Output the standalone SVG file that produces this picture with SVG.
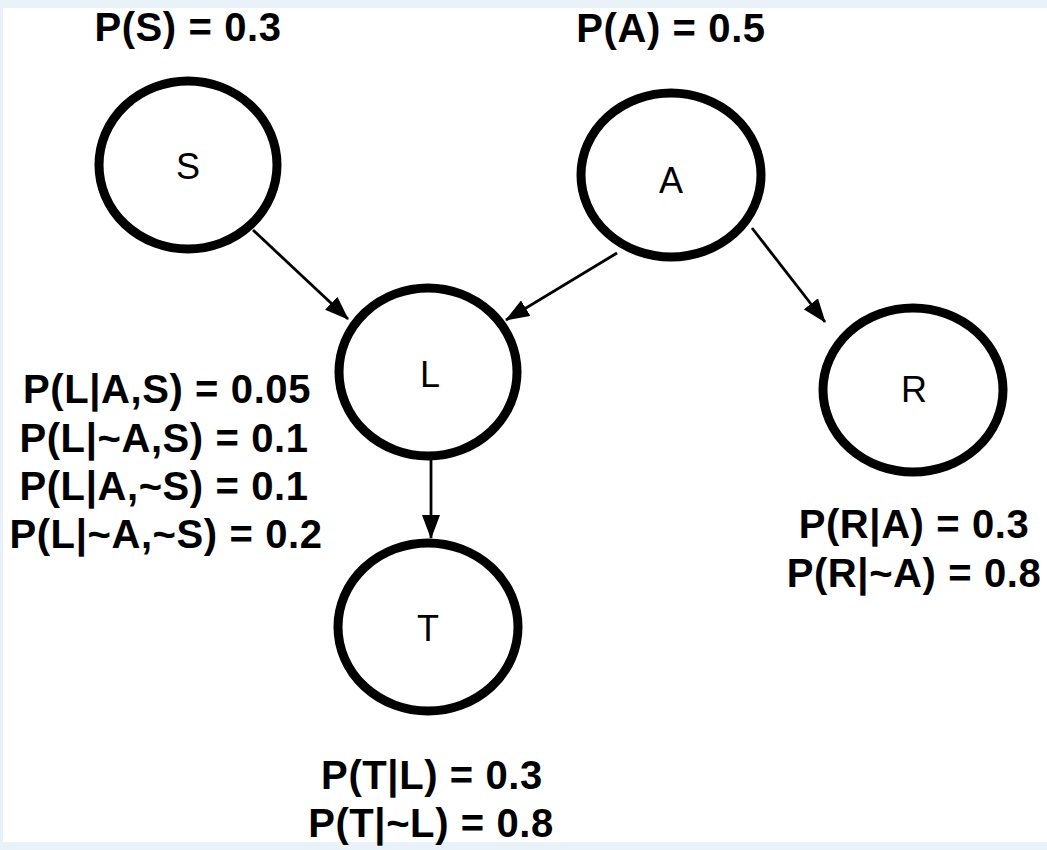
<svg xmlns="http://www.w3.org/2000/svg" width="1047" height="850" viewBox="0 0 1047 850">
<style>
.node{fill:#fff;stroke:#000;stroke-width:9}
.lbl{font-family:"Liberation Sans",Arial,Helvetica,sans-serif;font-size:36px;fill:#000;text-anchor:middle}
.cpt{font-family:"Liberation Sans",Arial,Helvetica,sans-serif;font-size:40px;font-weight:bold;fill:#000;text-anchor:middle;letter-spacing:0.6px}
.edge{stroke:#000;stroke-width:2.8;fill:none;marker-end:url(#arr)}
</style>
<defs>
<marker id="arr" markerUnits="userSpaceOnUse" markerWidth="24" markerHeight="18" viewBox="0 0 24 18" refX="23" refY="9" orient="auto">
<path d="M0,0 L24,9 L0,18 Z" fill="#000"/>
</marker>
</defs>
<rect x="0" y="0" width="1047" height="850" fill="#e9f1f9"/>
<rect x="3" y="8" width="1044" height="834" fill="#fff"/>
<g id="edges">
<line class="edge" x1="253" y1="230" x2="348" y2="319"/>
<line class="edge" x1="617" y1="253" x2="506" y2="320"/>
<line class="edge" x1="752" y1="228" x2="825" y2="322"/>
<line class="edge" x1="431" y1="458" x2="431" y2="538"/>
</g>
<g id="node-S">
<ellipse class="node" cx="188" cy="165" rx="89" ry="84"/>
<text class="lbl" x="188" y="179">S</text>
</g>
<g id="node-A">
<ellipse class="node" cx="671" cy="175" rx="90" ry="82"/>
<text class="lbl" x="671" y="193">A</text>
</g>
<g id="node-L">
<ellipse class="node" cx="428" cy="372" rx="89" ry="84"/>
<text class="lbl" x="430" y="387">L</text>
</g>
<g id="node-R">
<ellipse class="node" cx="913" cy="390" rx="90" ry="82"/>
<text class="lbl" x="914" y="402">R</text>
</g>
<g id="node-T">
<ellipse class="node" cx="428" cy="627" rx="90" ry="84"/>
<text class="lbl" x="428" y="641">T</text>
</g>
<g id="cpt-S"><text class="cpt" x="188" y="41">P(S) = 0.3</text></g>
<g id="cpt-A"><text class="cpt" x="671" y="42">P(A) = 0.5</text></g>
<g id="cpt-L">
<text class="cpt" x="167" y="403">P(L|A,S) = 0.05</text>
<text class="cpt" x="164" y="452">P(L|~A,S) = 0.1</text>
<text class="cpt" x="164" y="500">P(L|A,~S) = 0.1</text>
<text class="cpt" x="166" y="548">P(L|~A,~S) = 0.2</text>
</g>
<g id="cpt-R">
<text class="cpt" x="914" y="538">P(R|A) = 0.3</text>
<text class="cpt" x="914" y="587">P(R|~A) = 0.8</text>
</g>
<g id="cpt-T">
<text class="cpt" x="432" y="789">P(T|L) = 0.3</text>
<text class="cpt" x="431" y="837">P(T|~L) = 0.8</text>
</g>
</svg>
